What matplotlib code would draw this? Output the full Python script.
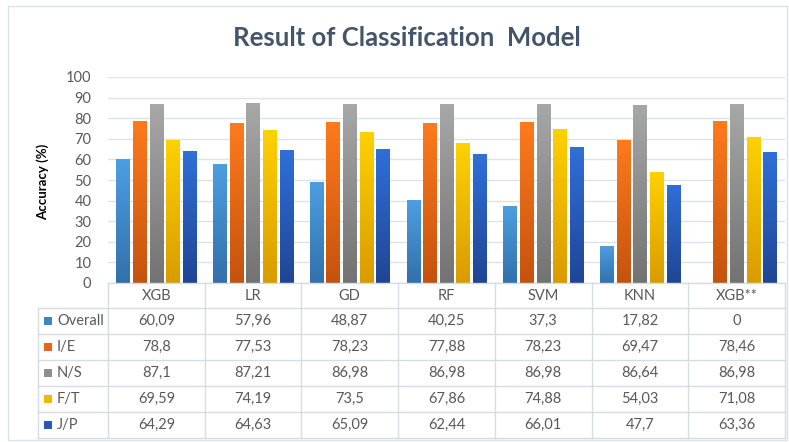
import numpy as np
import matplotlib
matplotlib.use("Agg")
import matplotlib.pyplot as plt
from matplotlib.colors import LinearSegmentedColormap
from matplotlib.patches import Rectangle
from matplotlib.lines import Line2D

plt.rcParams['font.family'] = ['Lato', 'DejaVu Sans']

categories = ["XGB", "LR", "GD", "RF", "SVM", "KNN", "XGB**"]
series_names = ["Overall", "I/E", "N/S", "F/T", "J/P"]
overall = [60.09, 57.96, 48.87, 40.25, 37.3, 17.82, 0]
ie = [78.8, 77.53, 78.23, 77.88, 78.23, 69.47, 78.46]
ns = [87.1, 87.21, 86.98, 86.98, 86.98, 86.64, 86.98]
ft = [69.59, 74.19, 73.5, 67.86, 74.88, 54.03, 71.08]
jp = [64.29, 64.63, 65.09, 62.44, 66.01, 47.7, 63.36]
series = [overall, ie, ns, ft, jp]
yticks = list(range(0, 101, 10))

# (top colour, bottom colour, legend colour)
grad = [("#4C9FE3", "#3270AA", "#3D86C6"),
        ("#FF7B1C", "#C4520E", "#E8661A"),
        ("#A8A8A8", "#727272", "#8E8E8E"),
        ("#FFD200", "#D99B00", "#F2B800"),
        ("#306FDA", "#1F4594", "#2858B8")]

W, H = 789, 442
fig = plt.figure(figsize=(W / 100, H / 100), dpi=100)

def fx(px):
    return px / W

def fy(py):
    return 1 - py / H

# outer border
fig.patches.append(Rectangle((fx(8), fy(440)), fx(779), 434 / H, transform=fig.transFigure,
                             fill=False, edgecolor="#DCE2EA", linewidth=1.0))

ax = fig.add_axes([fx(108), fy(283), fx(785) - fx(108), (283 - 77) / H])
n = len(categories)
ax.set_xlim(-0.5, n - 0.5)
ax.set_ylim(0, 100)
for s in ax.spines.values():
    s.set_visible(False)
ax.set_yticks(yticks)
ax.set_yticklabels([str(t) for t in yticks], color="#595959", fontsize=10.5)
ax.tick_params(axis='y', length=0, pad=12)
ax.set_xticks([])
ax.yaxis.grid(True, color="#DDE3EA", linewidth=1.0)
ax.set_axisbelow(True)

step = 0.172
bw = 0.138
x = np.arange(n)
g = np.linspace(0, 1, 256).reshape(-1, 1)
for j, vals in enumerate(series):
    top, bot, _ = grad[j]
    cmap = LinearSegmentedColormap.from_list("g%d" % j, [bot, top])
    bars = ax.bar(x + (j - 2) * step, vals, width=bw, color=grad[j][2],
                  edgecolor="none", linewidth=0, zorder=2)
    for b in bars:
        h = b.get_height()
        if h <= 0:
            continue
        x0 = b.get_x()
        im = ax.imshow(g, cmap=cmap, extent=[x0 - 0.02, x0 + b.get_width() + 0.02, -0.5, h + 0.5],
                       origin='lower', aspect='auto', zorder=3, interpolation='bilinear')
        im.set_clip_path(b)
ax.set_xlim(-0.5, n - 0.5)
ax.set_ylim(0, 100)

fig.text(fx(407), fy(38), "Result of Classification  Model", ha="center", va="center",
         fontsize=18.5, fontweight="bold", color="#44546A")
fig.text(fx(43), fy(182), "Accuracy (%)", rotation=90, ha="center", va="center",
         fontsize=9.5, fontweight="bold", color="#000000")

# data table
lc = "#D6DCE4"
tc = "#595959"
row_edges = [283, 308, 334, 360, 386, 412, 438]
left_px = 38
plot_l, plot_r = 108, 785
colw = (plot_r - plot_l) / n
fig.add_artist(Line2D([fx(plot_l), fx(plot_r)], [fy(row_edges[0])] * 2, color=lc, lw=1, transform=fig.transFigure))
for ry in row_edges[1:]:
    fig.add_artist(Line2D([fx(left_px), fx(plot_r)], [fy(ry)] * 2, color=lc, lw=1, transform=fig.transFigure))
fig.add_artist(Line2D([fx(left_px)] * 2, [fy(row_edges[1]), fy(row_edges[-1])], color=lc, lw=1, transform=fig.transFigure))
for k in range(n + 1):
    xp = plot_l + k * colw
    fig.add_artist(Line2D([fx(xp)] * 2, [fy(row_edges[0]), fy(row_edges[-1])], color=lc, lw=1, transform=fig.transFigure))

for k, c in enumerate(categories):
    xc = plot_l + (k + 0.5) * colw
    fig.text(fx(xc), fy((row_edges[0] + row_edges[1]) / 2), c, ha="center", va="center",
             fontsize=10.5, color=tc)

def fmt(v):
    return ("%g" % v).replace(".", ",")

for j, vals in enumerate(series):
    yc = (row_edges[j + 1] + row_edges[j + 2]) / 2
    fig.patches.append(Rectangle((fx(44), fy(yc + 4)), 8 / W, 8 / H, transform=fig.transFigure,
                                 facecolor=grad[j][2], edgecolor="none"))
    fig.text(fx(57), fy(yc), series_names[j], ha="left", va="center", fontsize=10.5, color=tc)
    for k, v in enumerate(vals):
        xc = plot_l + (k + 0.5) * colw
        fig.text(fx(xc), fy(yc), fmt(v), ha="center", va="center", fontsize=10.5, color=tc)

fig.savefig("out.png", dpi=100)
